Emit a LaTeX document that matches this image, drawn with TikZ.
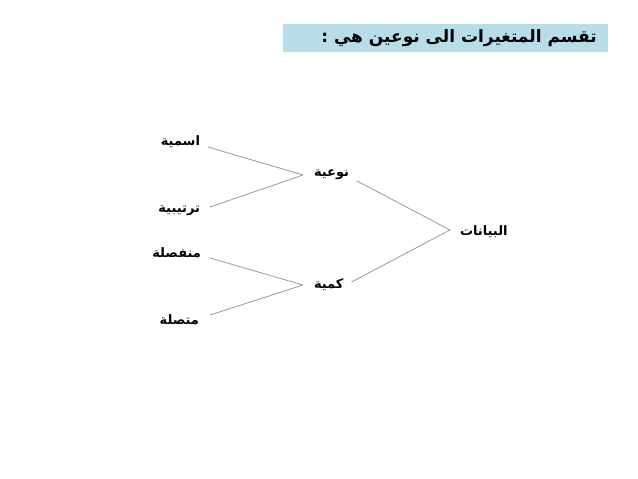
\documentclass[tikz,border=0pt]{standalone}
\usepackage{fontspec}
\newfontfamily\arabicfont[Script=Arabic]{DejaVu Sans}
\TeXXeTstate=1
\definecolor{titlebg}{HTML}{B7DDE8}
\definecolor{linegray}{HTML}{999999}
\begin{document}
\begin{tikzpicture}[x=1pt, y=-1pt, line join=round, line cap=round,
  lbl/.style={font=\arabicfont\bfseries\fontsize{13}{15}\selectfont, inner sep=0pt, outer sep=0pt},
  link/.style={draw=linegray, line width=0.8pt}]
  \useasboundingbox (0,0) rectangle (638,479);
  \fill[titlebg] (283,24) rectangle (608,52);
  \node[anchor=east, inner sep=0pt, font=\arabicfont\bfseries\fontsize{17}{20}\selectfont] (title) at (597,38) {\beginR تقسم المتغيرات الى نوعين هي :\endR};
  % leaves
  \foreach \nm/\xx/\yy/\txt in {ism/200/142/اسمية, trt/200/211/ترتيبية, mnf/201/253/منفصلة, mtc/199/320/متصلة}
    \node[lbl, anchor=east] (\nm) at (\xx,\yy) {\beginR\txt\endR};
  % middle and root
  \node[lbl, anchor=west] (nw) at (314,175) {\beginR نوعية\endR};
  \node[lbl, anchor=west] (km) at (314,285) {\beginR كمية\endR};
  \node[lbl, anchor=west] (bay) at (460,232) {\beginR البيانات\endR};
  \path (303,175) coordinate (jn)
        (303,285) coordinate (jk)
        (450,230) coordinate (jb);
  \draw[link] ([xshift=8pt,yshift=-5pt]ism.east) -- (jn) -- ([xshift=10pt,yshift=4pt]trt.east);
  \draw[link] ([xshift=9pt,yshift=-5pt]mnf.east) -- (jk) -- ([xshift=11pt,yshift=5pt]mtc.east);
  \draw[link] ([xshift=8pt,yshift=-6pt]nw.east) -- (jb) -- ([xshift=8pt,yshift=3pt]km.east);
\end{tikzpicture}
\end{document}
